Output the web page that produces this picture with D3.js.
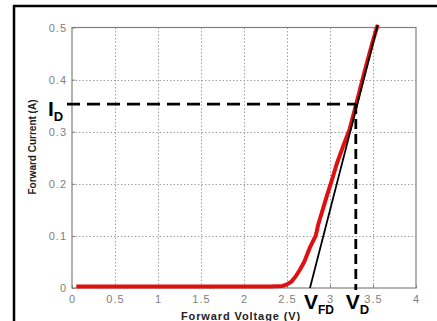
<!DOCTYPE html>
<html>
<head>
<meta charset="utf-8">
<script src="https://cdn.jsdelivr.net/npm/d3@7"></script>
<style>
  html, body { margin: 0; padding: 0; background: #fff; }
  svg { display: block; font-family: "Liberation Sans", Arial, sans-serif; }
</style>
</head>
<body>
<svg id="chart" width="437" height="321"></svg>
<script>
// Measured forward I-V characteristic of the LED
const voltage = [0.05, 0.5, 1.0, 1.5, 2.0, 2.3, 2.45, 2.5, 2.55, 2.6, 2.65, 2.7, 2.77, 2.83,
                 2.845, 2.86, 2.9, 2.96, 3.01, 3.08, 3.15, 3.225, 3.3, 3.35, 3.4, 3.45, 3.5, 3.555];
const current = [0.003, 0.003, 0.003, 0.003, 0.003, 0.003, 0.004, 0.007, 0.012, 0.022, 0.035, 0.050,
                 0.079, 0.099, 0.108, 0.120, 0.142, 0.175, 0.201, 0.239, 0.271, 0.303, 0.350, 0.382,
                 0.414, 0.445, 0.475, 0.505];

// Linear (tangent) model of the conduction region
const tangentV = [2.767, 3.555];
const tangentI = [0.0, 0.505];

// Operating point
const VD = 3.3;
const ID = 0.353;

// Axis ticks
const xTicks = [0, 0.5, 1, 1.5, 2, 2.5, 3, 3.5, 4];
const yTicks = [0, 0.1, 0.2, 0.3, 0.4, 0.5];
const xTickLabels = ["0", "0.5", "1", "1.5", "2", "2.5", "3", "3.5", "4"];
const yTickLabels = ["0", "0.1", "0.2", "0.3", "0.4", "0.5"];

const svg = d3.select("#chart");
const plotLeft = 72, plotRight = 416, plotTop = 27.5, plotBottom = 288;

const x = d3.scaleLinear().domain([0, 4]).range([plotLeft, plotRight]);
const y = d3.scaleLinear().domain([0, 0.5]).range([plotBottom, plotTop]);

// Outer frame (top and left edges)
svg.append("line").attr("x1", 13).attr("x2", 437).attr("y1", 6).attr("y2", 6)
  .attr("stroke", "#000").attr("stroke-width", 2.5);
svg.append("line").attr("x1", 14).attr("x2", 14).attr("y1", 5).attr("y2", 321)
  .attr("stroke", "#000").attr("stroke-width", 2.5);

// Dotted grid
const grid = svg.append("g").attr("stroke", "#a0a0a0").attr("stroke-width", 1)
  .attr("stroke-dasharray", "1.5,2");
grid.selectAll(".gx").data(xTicks.slice(1, -1)).join("line")
  .attr("x1", d => Math.round(x(d)) + 0.5).attr("x2", d => Math.round(x(d)) + 0.5)
  .attr("y1", plotTop).attr("y2", plotBottom);
grid.selectAll(".gy").data(yTicks.slice(1, -1)).join("line")
  .attr("y1", d => Math.round(y(d)) + 0.5).attr("y2", d => Math.round(y(d)) + 0.5)
  .attr("x1", plotLeft).attr("x2", plotRight);

// Plot box
svg.append("rect").attr("x", plotLeft).attr("y", plotTop)
  .attr("width", plotRight - plotLeft).attr("height", plotBottom - plotTop)
  .attr("fill", "none").attr("stroke", "#808080").attr("stroke-width", 1.2);

// Axes (labels and inward ticks)
const xAxis = svg.append("g").attr("transform", `translate(0,${plotBottom})`)
  .call(d3.axisBottom(x).tickValues(xTicks).tickSize(3)
    .tickFormat((d, i) => xTickLabels[i]));
xAxis.select(".domain").remove();
xAxis.selectAll(".tick line").attr("stroke", "#808080").attr("y2", -3);
xAxis.selectAll(".tick text").attr("fill", "#808080").attr("font-size", 11)
  .attr("letter-spacing", 1)
  .attr("font-family", "Liberation Sans, Arial, sans-serif").attr("y", 7);

const yAxis = svg.append("g").attr("transform", `translate(${plotLeft},0)`)
  .call(d3.axisLeft(y).tickValues(yTicks).tickSize(3)
    .tickFormat((d, i) => yTickLabels[i]));
yAxis.select(".domain").remove();
yAxis.selectAll(".tick line").attr("stroke", "#808080").attr("x2", 3);
yAxis.selectAll(".tick text").attr("fill", "#808080").attr("font-size", 11)
  .attr("letter-spacing", 1)
  .attr("font-family", "Liberation Sans, Arial, sans-serif").attr("x", -5);

// Axis titles
svg.append("text").attr("x", 241).attr("y", 320).attr("text-anchor", "middle")
  .attr("font-size", 11).attr("font-weight", "bold").attr("fill", "#222")
  .attr("letter-spacing", 0.9).text("Forward Voltage (V)");
svg.append("text").attr("transform", "translate(36,147) rotate(-90)")
  .attr("text-anchor", "middle").attr("font-size", 10).attr("font-weight", "bold")
  .attr("fill", "#222").text("Forward Current (A)");

// Measured curve
const pts = voltage.map((v, i) => [v, current[i]]);
svg.append("path").datum(pts)
  .attr("fill", "none").attr("stroke", "#e01010").attr("stroke-width", 4)
  .attr("stroke-linejoin", "round").attr("stroke-linecap", "butt")
  .attr("d", d3.line().x(d => x(d[0])).y(d => y(d[1])));

// Tangent line
svg.append("path").datum(tangentV.map((v, i) => [v, tangentI[i]]))
  .attr("fill", "none").attr("stroke", "#000").attr("stroke-width", 1.8)
  .attr("d", d3.line().x(d => x(d[0])).y(d => y(d[1])));

// Operating point guides
svg.append("line").attr("x1", plotLeft - 5).attr("x2", x(VD))
  .attr("y1", y(ID)).attr("y2", y(ID))
  .attr("stroke", "#000").attr("stroke-width", 2.8).attr("stroke-dasharray", "13,7");
svg.append("line").attr("x1", x(VD)).attr("x2", x(VD))
  .attr("y1", y(ID)).attr("y2", plotBottom + 2)
  .attr("stroke", "#000").attr("stroke-width", 2.8).attr("stroke-dasharray", "10,5");

// Symbol labels
function symbol(px, py, main, sub, subSize) {
  const t = svg.append("text").attr("x", px).attr("y", py)
    .attr("font-weight", "bold").attr("fill", "#000");
  t.append("tspan").attr("font-size", 21).text(main);
  t.append("tspan").attr("font-size", subSize).attr("dy", 5).text(sub);
}
symbol(plotLeft - 24, y(ID) + 12, "I", "D", 13);
symbol(x(tangentV[0]) - 6, 309, "V", "FD", 12);
symbol(x(VD) - 10, 309, "V", "D", 13);
</script>
</body>
</html>
